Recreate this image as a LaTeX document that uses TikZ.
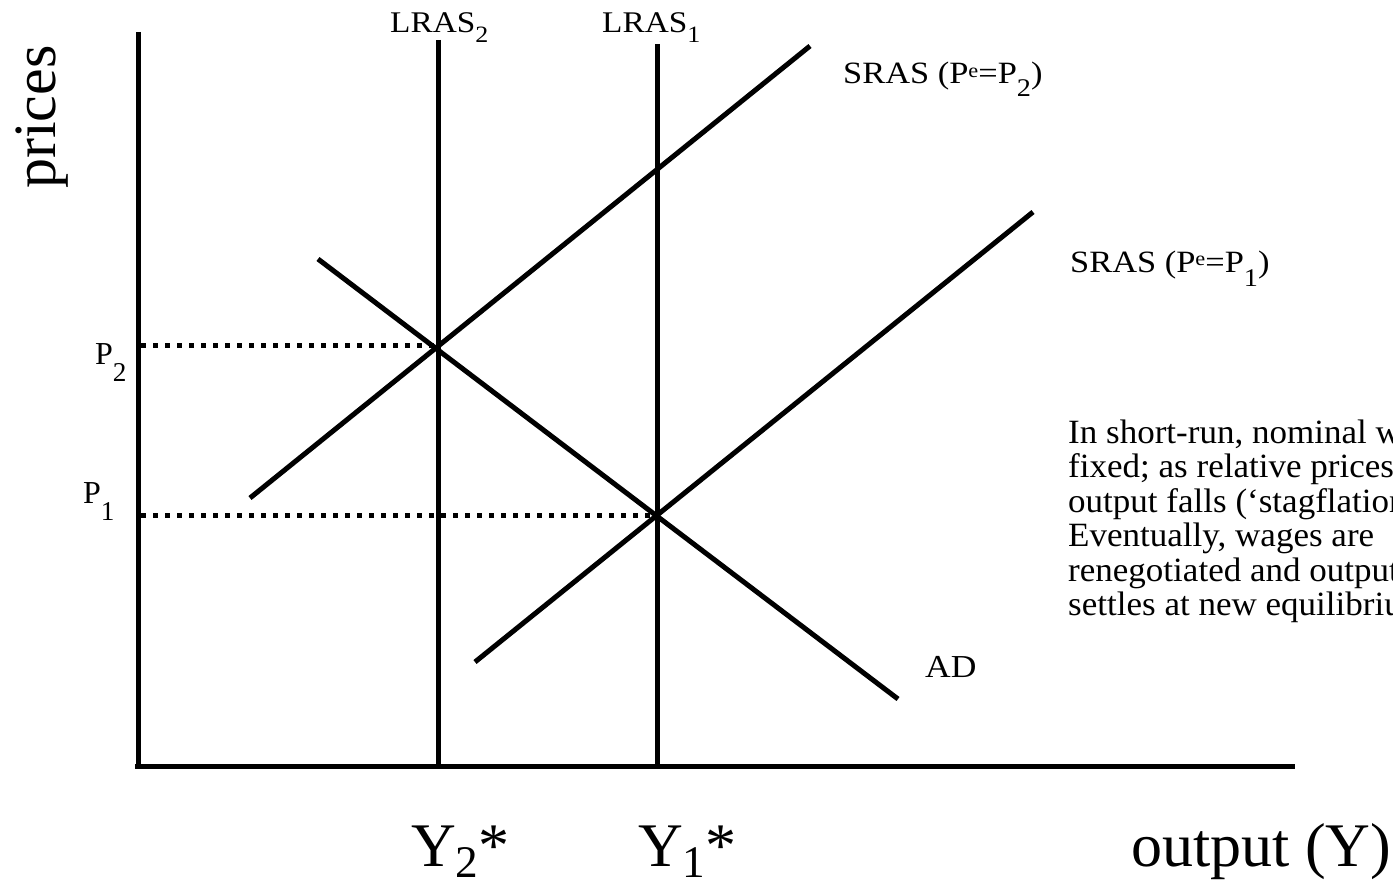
\documentclass[tikz,border=0pt]{standalone}
\usepackage{graphicx}
\usepackage{fontspec}
\setmainfont{Liberation Serif}
\newfontfamily\lblfont{Liberation Serif}[FakeStretch=1.11]
\newfontfamily\parfont{Liberation Serif}[FakeStretch=1.03]
\newcommand\dsub[3]{\raisebox{-#1}{\scalebox{#2}{#3}}}
\newcommand\esup{\raisebox{0.2em}{\scalebox{0.65}{e}}}
\begin{document}
\begin{tikzpicture}[x=1pt,y=-1pt,
  curve/.style={line width=5pt,black},
  axis/.style={line width=5pt,black},
  guide/.style={line width=5pt,black,dash pattern=on 5pt off 7pt},
  lbl/.style={inner sep=0pt,anchor=base west,font=\lblfont\fontsize{31}{36}\selectfont},
  biglbl/.style={inner sep=0pt,anchor=base west,font=\fontsize{62}{70}\selectfont},
  para/.style={inner sep=0pt,anchor=base west,font=\parfont\fontsize{34}{34.5}\selectfont}]
\useasboundingbox (0,0) rectangle (1393,883);
\clip (0,0) rectangle (1393,883);
\fill[white] (0,0) rectangle (1393,883);
% coordinates
\coordinate (ytop) at (138,32);
\coordinate (ybot) at (138,768);
\coordinate (xleft) at (135,766);
\coordinate (xright) at (1295,766);
\coordinate (l2top) at (438,40);
\coordinate (l2bot) at (438,766);
\coordinate (l1top) at (657,44);
\coordinate (l1bot) at (657,766);
\coordinate (s2a) at (250,498);
\coordinate (s2b) at (810,46);
\coordinate (s1a) at (475,662);
\coordinate (s1b) at (1033,212);
\coordinate (ada) at (318,259);
\coordinate (adb) at (898,699);
\coordinate (e2) at (438,345);
\coordinate (e1) at (657,515);
\coordinate (p2l) at (141,345);
\coordinate (p1l) at (141,515);
% dotted guides
\draw[guide] (p2l) -- (e2);
\draw[guide] (p1l) -- (e1);
% axes
\draw[axis] (ytop) -- (ybot);
\draw[axis] (xleft) -- (xright);
% curves
\draw[curve] (l2top) -- (l2bot);
\draw[curve] (l1top) -- (l1bot);
\draw[curve] (s2a) -- (s2b);
\draw[curve] (s1a) -- (s1b);
\draw[curve] (ada) -- (adb);
% labels
\node[lbl,font=\lblfont\fontsize{30}{36}\selectfont] (lras2) at (390,33) {LRAS\dsub{10pt}{0.78}{2}};
\node[lbl,font=\lblfont\fontsize{30}{36}\selectfont] (lras1) at (602,33) {LRAS\dsub{10pt}{0.78}{1}};
\node[lbl] (sras2) at (843,84) {SRAS (P\esup=P\dsub{13pt}{0.82}{2})};
\node[lbl] (sras1) at (1070,272) {SRAS (P\esup=P\dsub{14pt}{0.82}{1})};
\node[lbl,font=\lblfont\fontsize{32}{36}\selectfont] (ad) at (925,677) {AD};
\node[lbl,font=\fontsize{32}{36}\selectfont] (p2) at (95,364) {P\dsub{17pt}{0.85}{2}};
\node[lbl,font=\fontsize{32}{36}\selectfont] (p1) at (83,503) {P\dsub{17pt}{0.85}{1}};
\node[biglbl] (y2) at (411,866) {Y\dsub{11pt}{0.73}{2}*};
\node[biglbl] (y1) at (638,866) {Y\dsub{11pt}{0.73}{1}*};
\node[biglbl] (out) at (1131,866) {output (Y)};
\node[biglbl,font=\fontsize{60}{70}\selectfont,rotate=90] (prices) at (55,189) {prices};
% paragraph
\node[para] (t1) at (1068,443) {In short-run, nominal wages};
\node[para] (t2) at (1068,477.5) {fixed; as relative prices};
\node[para] (t3) at (1068,512) {output falls (‘stagflation};
\node[para] (t4) at (1068,546.5) {Eventually, wages are};
\node[para] (t5) at (1068,581) {renegotiated and output};
\node[para] (t6) at (1068,615.5) {settles at new equilibrium};
\end{tikzpicture}
\end{document}
